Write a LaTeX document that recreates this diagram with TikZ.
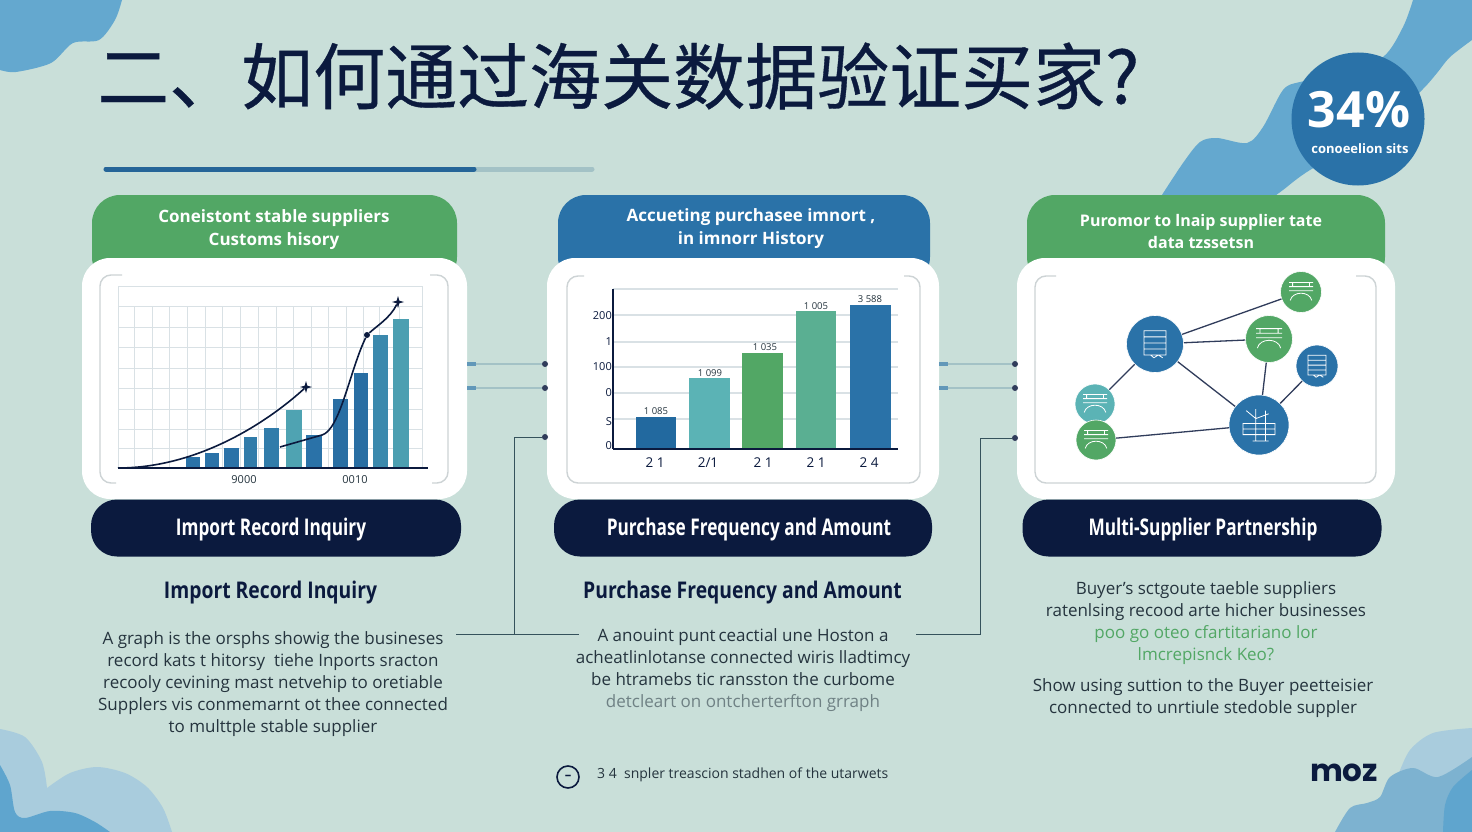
\documentclass[tikz,border=0pt]{standalone}
\usepackage{fontspec}
\setmainfont{Open Sans}
\newfontfamily\cjkfont[FakeBold=0.5]{Noto Sans CJK SC}
\newfontfamily\narrowfont[FakeStretch=0.84]{Open Sans}
\newfontfamily\pillfont[FakeStretch=0.75]{Open Sans}
\newfontfamily\logofont{Poppins}
\usetikzlibrary{shapes.geometric}
\definecolor{pagebg}{HTML}{C9DFD9}
\definecolor{navy}{HTML}{0B1A3E}
\definecolor{bluemain}{HTML}{2A72A8}
\definecolor{greenmain}{HTML}{52A765}
\definecolor{tealmain}{HTML}{5BB3B5}
\definecolor{mintmain}{HTML}{5AAF92}
\definecolor{bluedark}{HTML}{22699F}
\definecolor{blobtop}{HTML}{64A8CF}
\definecolor{bloblight}{HTML}{A9CCDD}
\definecolor{blobmid}{HTML}{7DB2D0}
\definecolor{blobdark}{HTML}{5FA5CE}
\definecolor{gridgray}{HTML}{D9E1E5}
\definecolor{framegray}{HTML}{CDD3D5}
\definecolor{bodytext}{HTML}{25343E}
\definecolor{wire}{HTML}{35525C}
\definecolor{stubline}{HTML}{A3C2C6}
\tikzset{
	card/.style={fill=white,rounded corners=28pt,minimum height=241pt},
	header/.style={rounded corners=28pt,minimum height=90pt},
	headtext/.style={text=white,font=\fontsize{17}{23}\selectfont\bfseries,align=center},
	pill/.style={fill=navy,rounded corners=26pt,minimum height=57pt},
	pilltext/.style={text=white,font=\pillfont\fontsize{23}{26}\selectfont\bfseries},
	subtitle/.style={text=navy,font=\narrowfont\fontsize{23}{26}\selectfont\bfseries},
	bodycopy/.style={text=bodytext,font=\fontsize{17}{22}\selectfont,align=center},
	frame/.style={draw=framegray,line width=1.4pt,rounded corners=11pt},
	gridline/.style={draw=gridgray,line width=0.9pt},
	axisline/.style={draw=navy,line width=2pt},
	trend/.style={draw=navy,line width=1.6pt},
	starmark/.style={star,star points=4,star point ratio=3.2,fill=navy,inner sep=0pt,minimum size=12pt},
	dotend/.style={circle,fill=navy!85!white,inner sep=0pt,minimum size=6pt},
	stub/.style={fill=bluemain!65!pagebg,inner sep=0pt,minimum width=9pt,minimum height=4pt},
	stubwire/.style={draw=stubline,line width=1.6pt},
	elbow/.style={draw=wire,line width=1pt},
	link/.style={draw=navy!85!white,line width=1.3pt},
	hub/.style={circle,inner sep=0pt,draw=white,line width=0.6pt},
	iconline/.style={draw=white,line width=0.8pt},
	smalllabel/.style={text=bodytext,font=\fontsize{11}{13}\selectfont,inner sep=0pt},
	valuelabel/.style={text=bodytext,font=\fontsize{9.5}{11}\selectfont,inner sep=0pt},
	ticklabel/.style={text=navy,font=\fontsize{13.5}{15}\selectfont,inner sep=0pt},
	axislabel/.style={text=navy,anchor=east,font=\fontsize{11}{13}\selectfont,inner sep=0pt}
}
\newcommand{\rackicon}[2]{\draw[iconline,shift={(#1.center)},scale=#2](-1,-1.2)rectangle(1,1)(-1,-.65)--(1,-.65)(-1,-.1)--(1,-.1)(-1,.45)--(1,.45)(-.4,1)--(-.1,1.25)--(.3,1)--(.7,1.25);}
\newcommand{\archicon}[2]{\draw[iconline,shift={(#1.center)},scale=#2](-1,-.8)--(1,-.8)(-1,-.45)--(1,-.45)(-1,-.1)--(1,-.1)(-.9,.7)..controls(-.7,-.1)and(.7,-.1)..(.9,.7)(-.7,-.45)--(-.7,-.8)(.7,-.45)--(.7,-.8);}
\newcommand{\treeicon}[2]{\draw[iconline,shift={(#1.center)},scale=#2](-1,-.1)rectangle(1,.6)(-.2,-1)--(-.2,1)(.4,-.9)--(.4,1)(-.8,-.9)--(-.2,-.4)--(.6,-.7)(-1,.25)--(1,.25)(-.4,1)--(.6,1);}
\begin{document}
\begin{tikzpicture}[x=1pt,y=-1pt]
\useasboundingbox (0,0) rectangle (1472,832);
\fill[pagebg] (0,0) rectangle (1472,832);

\fill[blobtop] (122,0) -- plot[smooth] coordinates{(122,0)(115,20)(99,40)(73,43)(51,63)(16,72)(0,70)} -- (0,0) -- cycle;
\fill[blobtop] (1413,0) -- plot[smooth] coordinates{(1413,0)(1403,27)(1383,57)(1340,75)(1300,82)(1283,90)(1263,127)(1247,143)(1217,138)(1200,142)(1183,163)(1160,198)} -- (1272,198) -- plot[smooth] coordinates{(1272,198)(1283,190)(1310,170)(1380,130)(1422,90)(1437,73)(1450,57)(1472,40)} -- (1472,0) -- cycle;
\fill[bloblight] (0,729) -- plot[smooth] coordinates{(0,729)(25,737)(42,762)(47,788)} -- plot[smooth] coordinates{(47,788)(70,773)(97,767)(125,773)(147,787)(163,808)(172,832)} -- (0,832) -- cycle;
\fill[blobdark] (0,765) -- plot[smooth] coordinates{(0,765)(10,785)(15,812)(25,818)(50,811)(75,813)(95,822)(110,832)} -- (0,832) -- cycle;
\fill[bloblight] (1385,832) -- plot[smooth] coordinates{(1385,800)(1397,777)(1410,750)(1433,733)(1472,728)} -- (1472,832) -- cycle;
\fill[blobmid] (1335,832) -- plot[smooth] coordinates{(1335,832)(1350,808)(1367,803)(1380,797)(1390,777)(1413,768)(1438,777)(1472,757)} -- (1472,832) -- cycle;
\fill[blobdark] (1443,832) -- plot[smooth] coordinates{(1443,832)(1445,805)(1453,787)(1472,770)} -- (1472,832) -- cycle;

\node[anchor=west,text=navy,inner sep=0pt,font=\cjkfont\fontsize{72}{80}\selectfont](title) at (97,76){二、如何通过海关数据验证买家?};
\draw[line width=5pt,stubline,line cap=round] (106,169) -- (592,169);
\draw[line width=5pt,bluemain!85!navy,line cap=round] (106,169) -- (474,169);

\node[circle,fill=bluemain,minimum size=133pt,inner sep=0pt](ratebadge) at (1358,119){};
\node[text=white,inner sep=0pt,font=\fontsize{50}{52}\selectfont\bfseries](ratevalue) at (1359,110){34\%};
\node[text=white,inner sep=0pt,font=\fontsize{13}{15}\selectfont\bfseries](ratenote) at (1360,149){conoeelion sits};

\node[header,fill=greenmain,minimum width=365pt](headA) at (274.5,240){};
\node[header,fill=bluemain,minimum width=372pt](headB) at (744,240){};
\node[header,fill=greenmain,minimum width=358pt](headC) at (1206,240){};
\node[headtext](headtextA) at (274,230){Coneistont stable suppliers\\Customs hisory};
\node[headtext](headtextB) at (751,229){Accueting purchasee imnort ,\\in imnorr History};
\node[headtext,font=\fontsize{16}{22}\selectfont\bfseries](headtextC) at (1201,231){Puromor to lnaip supplier tate\\data tzssetsn};

\node[card,minimum width=385pt](cardA) at (274.5,378.5){};
\node[card,minimum width=392pt](cardB) at (743,378.5){};
\node[card,minimum width=378pt](cardC) at (1206,378.5){};

\draw[frame] (122,275) -- (100,275) -- (100,483) -- (116,483);
\draw[frame] (430,275) -- (448,275) -- (448,483) -- (432,483);
\draw[frame] (584,276) -- (567,276) -- (567,483) -- (920,483) -- (920,276) -- (904,276);
\draw[frame] (1056,276) -- (1035,276) -- (1035,483) -- (1376,483) -- (1376,276) -- (1356,276);

\draw[gridline] (118,286) rectangle (422,468);
\foreach \gx in {134,152,169,187,205,222,240,258,276,293,311,328,346,363,379,399}
	\draw[gridline] (\gx,306) -- (\gx,468);
\foreach \gy in {306,327,347,368,388,409,429,448}
	\draw[gridline] (118,\gy) -- (422,\gy);
\fill[bluemain] (186,457) rectangle (200,468);
\fill[bluemain] (205,453) rectangle (219,468);
\fill[bluemain] (224,448) rectangle (239,468);
\fill[bluemain!85!tealmain] (244,437) rectangle (257,468);
\fill[bluemain!85!tealmain] (264,428) rectangle (279,468);
\fill[tealmain!75!bluemain] (286,410) rectangle (302,468);
\fill[bluemain] (306,435) rectangle (322,468);
\fill[bluemain!95!navy] (333,399) rectangle (348,468);
\fill[bluemain!95!navy] (354,373) rectangle (368,468);
\fill[bluemain!65!tealmain] (373,335) rectangle (388,468);
\fill[tealmain!70!bluemain] (393,319) rectangle (409,468);
\draw[axisline] (118,468) -- (428,468);
\node[starmark](markA) at (306,387){};
\node[circle,fill=navy,inner sep=0pt,minimum size=6pt](markB) at (367,335){};
\node[starmark](markC) at (398,302){};
\coordinate(trendstart) at (118,468);
\coordinate(dipstart) at (280,447);
\coordinate(dipend) at (322,435);
\draw[trend] (trendstart) .. controls (200,468) and (270,420) .. (markA);
\draw[trend] (dipstart) -- (dipend) .. controls (340,430) and (350,370) .. (markB) .. controls (378,325) and (390,318) .. (markC);
\node[smalllabel](tickA) at (244,480){9000};
\node[smalllabel](tickB) at (355,480){0010};

\foreach \gy in {289,315,342,367,393,419}
	\draw[gridline,line width=1.2pt] (613,\gy) -- (898,\gy);
\fill[bluedark] (636,417) rectangle (676,449);
\fill[tealmain] (689,378) rectangle (730,449);
\fill[greenmain] (742,353) rectangle (783,449);
\fill[mintmain] (796,311) rectangle (836,449);
\fill[bluemain] (850,305) rectangle (891,449);
\draw[navy,line width=1.2pt] (613,289) -- (613,449);
\draw[navy,line width=1.6pt] (613,449) -- (898,449);
\node[valuelabel](valueA) at (656,411){1 085};
\node[valuelabel](valueB) at (710,373){1 099};
\node[valuelabel](valueC) at (765,347){1 035};
\node[valuelabel](valueD) at (816,306){1 005};
\node[valuelabel](valueE) at (870,299){3 588};
\node[axislabel](axisA) at (612,316){200};
\node[axislabel](axisB) at (612,342){1};
\node[axislabel](axisC) at (612,367){100};
\node[axislabel](axisD) at (612,393){0};
\node[axislabel](axisE) at (612,422){S};
\node[axislabel](axisF) at (612,446){0};
\node[ticklabel](yearA) at (655,463){2 1};
\node[ticklabel](yearB) at (708,463){2/1};
\node[ticklabel](yearC) at (763,463){2 1};
\node[ticklabel](yearD) at (816,463){2 1};
\node[ticklabel](yearE) at (869,463){2 4};

\node[hub,fill=bluemain,minimum size=57pt](hubA) at (1155,344){};
\node[hub,fill=greenmain,minimum size=41pt](leafA) at (1301,292){};
\node[hub,fill=greenmain,minimum size=47pt](leafB) at (1269,339){};
\node[hub,fill=bluemain,minimum size=42pt](leafC) at (1317,366){};
\node[hub,fill=bluemain,minimum size=60pt](hubB) at (1259,425){};
\node[hub,fill=tealmain,minimum size=40pt](leafD) at (1095,404){};
\node[hub,fill=greenmain,minimum size=40pt](leafE) at (1096,440){};
\path[link]
	(hubA)edge(leafA)
	(hubA)edge(leafB)
	(hubA)edge(hubB)
	(hubA)edge(leafD)
	(leafB)edge(hubB)
	(leafC)edge(hubB)
	(leafE)edge(hubB);
\rackicon{hubA}{11}
\archicon{leafA}{12}
\archicon{leafB}{13}
\rackicon{leafC}{9}
\treeicon{hubB}{16}
\archicon{leafD}{12}
\archicon{leafE}{12}

\node[pill,minimum width=370pt](pillA) at (276,528){};
\node[pill,minimum width=378pt](pillB) at (743,528){};
\node[pill,minimum width=359pt](pillC) at (1202,528){};
\node[pilltext](pilltextA) at (271,530){Import Record Inquiry};
\node[pilltext](pilltextB) at (749,530){Purchase Frequency and Amount};
\node[pilltext](pilltextC) at (1203,530){Multi-Supplier Partnership};
\node[subtitle](subtitleA) at (270.5,593){Import Record Inquiry};
\node[subtitle](subtitleB) at (742.5,593){Purchase Frequency and Amount};

\node[bodycopy](bodyA) at (273,684){A graph is the orsphs showig the busineses\\record kats t hitorsy\ \ tiehe Inports sracton\\recooly cevining mast netvehip to oretiable\\Supplers vis conmemarnt ot thee connected\\to multtple stable supplier};
\node[bodycopy,anchor=north](bodyB) at (743,625){A anouint punt\,ceactial une Hoston a\\acheatlinlotanse connected wiris lladtimcy\\be htramebs tic ransston the curbome\\\textcolor{bodytext!55!pagebg}{detcleart on ontcherterfton grraph}};
\node[bodycopy,anchor=north](bodyC) at (1206,578){Buyer's sctgoute taeble suppliers\\ratenlsing recood arte hicher businesses\\\textcolor{greenmain}{poo go oteo cfartitariano lor}\\\textcolor{greenmain}{lmcrepisnck Keo?}};
\node[bodycopy,anchor=north](bodyD) at (1203,675){Show using suttion to the Buyer peetteisier\\connected to unrtiule stedoble suppler};

\node[stub](stubA) at (471.5,364){};
\node[stub](stubB) at (471.5,388){};
\node[stub](stubC) at (943,364){};
\node[stub](stubD) at (943,388){};
\node[dotend](dotA) at (545,364){};
\node[dotend](dotB) at (545,388){};
\node[dotend](dotC) at (545,437){};
\node[dotend](dotD) at (1015,364){};
\node[dotend](dotE) at (1015,388){};
\node[dotend](dotF) at (1015,438){};
\coordinate(bodyleftA) at (456,634);
\coordinate(bodyrightA) at (579,634);
\coordinate(joinA) at (514,634);
\coordinate(bodyrightB) at (916,634);
\coordinate(joinB) at (980,634);
\path[stubwire]
	(stubA)edge(dotA)
	(stubB)edge(dotB)
	(stubC)edge(dotD)
	(stubD)edge(dotE);
\draw[elbow] (bodyleftA) -- (bodyrightA);
\draw[elbow] (joinA) |- (dotC);
\draw[elbow] (bodyrightB) -- (joinB) |- (dotF);

\node[circle,draw=navy,line width=1.6pt,minimum size=22pt,inner sep=0pt,text=navy,font=\fontsize{13}{14}\selectfont\bfseries](noteicon) at (568,777){–};
\node[anchor=west,text=bodytext,inner sep=0pt,font=\fontsize{14}{16}\selectfont](notetext) at (597,775){3 4\ \ snpler treascion stadhen of the utarwets};
\node[text=navy,inner sep=0pt,font=\logofont\fontsize{31}{33}\selectfont\bfseries](logo) at (1344,773){moz};

\end{tikzpicture}
\end{document}
